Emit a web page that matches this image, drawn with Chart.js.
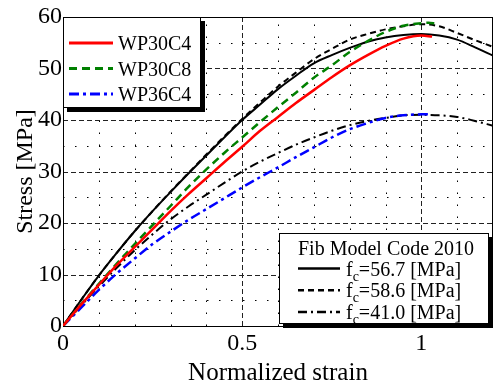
<!DOCTYPE html>
<html>
<head>
<meta charset="utf-8">
<script src="https://cdn.jsdelivr.net/npm/chart.js@4.4.0/dist/chart.umd.min.js"></script>
<style>
html, body { margin: 0; padding: 0; background: #fff; }
#wrap { width: 494px; height: 387px; }
</style>
</head>
<body>
<div id="wrap"><canvas id="stressChart" width="494" height="387"></canvas></div>
<script>
// model curves (fib Model Code 2010)
var strainModel = [0, 0.05, 0.1, 0.15, 0.2, 0.25, 0.3, 0.35, 0.4, 0.45, 0.5, 0.55, 0.6,
                   0.65, 0.7, 0.75, 0.8, 0.85, 0.9, 0.95, 1.0, 1.05, 1.1, 1.15, 1.2];
var stressFc567 = [0, 5.0, 9.8, 14.2, 18.4, 22.3, 26.0, 29.6, 33.1, 36.6, 40.0, 43.0, 46.0,
                   48.6, 51.0, 52.6, 54.0, 55.2, 56.0, 56.5, 56.7, 56.4, 55.6, 54.1, 52.5];
var stressFc586 = [0, 5.0, 9.8, 14.2, 18.4, 22.3, 26.1, 29.7, 33.3, 36.8, 40.2, 43.4, 46.5,
                   49.2, 51.8, 53.8, 55.6, 56.7, 57.6, 58.2, 58.6, 58.2, 56.9, 55.5, 54.2];
var stressFc410 = [0, 3.9, 7.7, 11.3, 14.7, 17.8, 20.7, 23.2, 25.5, 27.8, 30.0, 31.9, 33.6,
                   35.2, 36.6, 37.9, 39.0, 39.8, 40.4, 40.9, 41.0, 40.9, 40.6, 39.8, 38.9];

// test curves
var strainWP30C4 = [0, 0.05, 0.1, 0.15, 0.2, 0.25, 0.3, 0.35, 0.4, 0.45, 0.5, 0.55, 0.6,
                    0.65, 0.7, 0.75, 0.8, 0.85, 0.9, 0.95, 1.0, 1.03];
var stressWP30C4 = [0, 4.1, 8.0, 11.8, 15.3, 18.8, 22.3, 25.6, 28.7, 31.8, 34.8, 37.9, 40.6,
                    43.3, 45.8, 48.3, 50.6, 52.6, 54.4, 55.8, 56.4, 56.2];
var strainWP30C8 = [0, 0.05, 0.1, 0.15, 0.2, 0.25, 0.3, 0.35, 0.4, 0.45, 0.5, 0.55, 0.6,
                    0.65, 0.7, 0.75, 0.8, 0.85, 0.9, 0.95, 1.0, 1.02, 1.04];
var stressWP30C8 = [0, 4.2, 8.2, 12.1, 15.9, 19.6, 23.3, 27.0, 30.4, 33.6, 36.6, 39.6, 42.5,
                    45.3, 48.2, 50.6, 53.2, 55.3, 57.1, 58.3, 58.8, 58.9, 58.7];
var strainWP36C4 = [0, 0.05, 0.1, 0.15, 0.2, 0.25, 0.3, 0.35, 0.4, 0.45, 0.5, 0.55, 0.6,
                    0.65, 0.7, 0.75, 0.8, 0.85, 0.9, 0.95, 1.0, 1.02];
var stressWP36C4 = [0, 3.5, 7.0, 10.2, 13.1, 15.9, 18.3, 20.6, 22.7, 24.8, 26.9, 28.9, 30.8,
                    32.8, 34.7, 36.6, 38.2, 39.4, 40.4, 40.9, 41.1, 41.1];

var testNames = ['WP30C4', 'WP30C8', 'WP36C4'];
var modelTitle = 'Fib Model Code 2010';
var modelFc = ['56.7', '58.6', '41.0'];

var xTicks = [0, 0.5, 1];
var xMajor = [0.5, 1];
var xMinor = [0.1, 0.2, 0.3, 0.4, 0.6, 0.7, 0.8, 0.9, 1.1];
var yMajor = [10, 20, 30, 40, 50];
var yMinor = [5, 15, 25, 35, 45, 55];

var SERIF = '"Liberation Serif", "Times New Roman", serif';

// line styles: color, width, dash
var styleRed   = { c: '#ff0000', w: 2.5, d: [] };
var styleGreen = { c: '#008000', w: 2.5, d: [8, 5] };
var styleBlue  = { c: '#0000ff', w: 2.5, d: [10, 4, 3, 4] };
var styleK1    = { c: '#000000', w: 2, d: [] };
var styleK2    = { c: '#000000', w: 2, d: [6, 4] };
var styleK3    = { c: '#000000', w: 2, d: [9, 4, 2, 4] };

function toPoints(xs, ys) {
    var pts = [];
    for (var i = 0; i < xs.length; i++) pts.push({ x: xs[i], y: ys[i] });
    return pts;
}

function makeDataset(label, xs, ys, st, order) {
    return {
        label: label,
        data: toPoints(xs, ys),
        borderColor: st.c,
        borderWidth: st.w,
        borderDash: st.d,
        pointRadius: 0,
        fill: false,
        cubicInterpolationMode: 'monotone',
        order: order
    };
}

function strokeLine(ctx, x1, y1, x2, y2) {
    ctx.beginPath();
    ctx.moveTo(x1, y1);
    ctx.lineTo(x2, y2);
    ctx.stroke();
}

// MATLAB style grid + box
var gridPlugin = {
    id: 'matlabGrid',
    beforeDatasetsDraw: function (chart) {
        var ctx = chart.ctx, a = chart.chartArea;
        var sx = chart.scales.x, sy = chart.scales.y;
        var i, p;
        ctx.save();
        ctx.lineWidth = 1;
        ctx.strokeStyle = '#000';
        ctx.setLineDash([1.5, 10.5]);
        for (i = 0; i < xMinor.length; i++) {
            p = Math.round(sx.getPixelForValue(xMinor[i])) + 0.5;
            strokeLine(ctx, p, a.bottom, p, a.top);
        }
        for (i = 0; i < yMinor.length; i++) {
            p = Math.round(sy.getPixelForValue(yMinor[i])) + 0.5;
            strokeLine(ctx, a.left, p, a.right, p);
        }
        ctx.strokeStyle = '#222';
        ctx.setLineDash([5, 3]);
        for (i = 0; i < xMajor.length; i++) {
            p = Math.round(sx.getPixelForValue(xMajor[i])) + 0.5;
            strokeLine(ctx, p, a.bottom, p, a.top);
        }
        for (i = 0; i < yMajor.length; i++) {
            p = Math.round(sy.getPixelForValue(yMajor[i])) + 0.5;
            strokeLine(ctx, a.left, p, a.right, p);
        }
        ctx.setLineDash([]);
        ctx.strokeStyle = '#000';
        ctx.strokeRect(Math.round(a.left) + 0.5, Math.round(a.top) + 0.5,
                       Math.round(a.right - a.left) - 1, Math.round(a.bottom - a.top));
        ctx.restore();
    }
};

function legendBox(ctx, x1, y1, x2, y2) {
    ctx.fillStyle = '#000';
    ctx.fillRect(x2, y1 + 4, 4, y2 - y1);
    ctx.fillRect(x1 + 4, y2, x2 - x1, 4);
    ctx.fillStyle = '#fff';
    ctx.fillRect(x1, y1, x2 - x1, y2 - y1);
    ctx.strokeStyle = '#000';
    ctx.lineWidth = 1;
    ctx.setLineDash([]);
    ctx.strokeRect(x1 + 0.5, y1 + 0.5, x2 - x1 - 1, y2 - y1 - 1);
}

function legendSample(ctx, st, x1, x2, y) {
    ctx.strokeStyle = st.c;
    ctx.lineWidth = st.w + 0.5;
    ctx.setLineDash(st.d);
    strokeLine(ctx, x1, y, x2, y);
    ctx.setLineDash([]);
}

var legendPlugin = {
    id: 'twoLegends',
    afterDatasetsDraw: function (chart) {
        var ctx = chart.ctx, a = chart.chartArea;
        var i, y;
        ctx.save();
        // test legend, top left
        var tStyles = [styleRed, styleGreen, styleBlue];
        legendBox(ctx, a.left, a.top, 201, 108);
        ctx.font = '20px ' + SERIF;
        ctx.fillStyle = '#000';
        ctx.textBaseline = 'alphabetic';
        for (i = 0; i < testNames.length; i++) {
            y = 43 + i * 25.5;
            legendSample(ctx, tStyles[i], 69, 113, y);
            ctx.fillStyle = '#000';
            ctx.fillText(testNames[i], 118, y + 7);
        }
        // model legend, bottom right
        var mStyles = [styleK1, styleK2, styleK3];
        legendBox(ctx, 279, 233, 489, 324);
        ctx.font = '20px ' + SERIF;
        ctx.fillStyle = '#000';
        ctx.fillText(modelTitle, 298, 255);
        for (i = 0; i < modelFc.length; i++) {
            y = 268.5 + i * 21.7;
            legendSample(ctx, mStyles[i], 298, 340, y);
            var tx = 346, by = y + 7;
            ctx.fillStyle = '#000';
            ctx.font = '20px ' + SERIF;
            ctx.fillText('f', tx, by);
            tx += ctx.measureText('f').width;
            ctx.font = '14px ' + SERIF;
            ctx.fillText('c', tx, by + 5);
            tx += ctx.measureText('c').width;
            ctx.font = '20px ' + SERIF;
            ctx.fillText('=' + modelFc[i] + ' [MPa]', tx, by);
        }
        ctx.restore();
    }
};

var ctx = document.getElementById('stressChart');
var StressChart = new Chart(ctx, {
    type: 'line',
    data: {
        datasets: [
            makeDataset(testNames[0], strainWP30C4, stressWP30C4, styleRed, 0),
            makeDataset(testNames[1], strainWP30C8, stressWP30C8, styleGreen, 0),
            makeDataset(testNames[2], strainWP36C4, stressWP36C4, styleBlue, 0),
            makeDataset('fc=56.7', strainModel, stressFc567, styleK1, 1),
            makeDataset('fc=58.6', strainModel, stressFc586, styleK2, 1),
            makeDataset('fc=41.0', strainModel, stressFc410, styleK3, 1)
        ]
    },
    options: {
        responsive: false,
        animation: false,
        devicePixelRatio: 1,
        layout: { padding: { top: 17, right: 1, left: 0, bottom: 0 } },
        plugins: { legend: { display: false }, tooltip: { enabled: false } },
        scales: {
            x: {
                type: 'linear',
                min: 0,
                max: 1.2,
                afterBuildTicks: function (scale) {
                    scale.ticks = xTicks.map(function (v) { return { value: v }; });
                },
                afterFit: function (scale) { scale.height = 61; },
                grid: { display: false, drawTicks: false },
                border: { display: false },
                ticks: {
                    color: '#000',
                    padding: 3,
                    maxRotation: 0,
                    autoSkip: false,
                    font: { family: SERIF, size: 24 },
                    callback: function (v) { return String(v); }
                },
                title: {
                    display: true,
                    text: 'Normalized strain',
                    color: '#000',
                    font: { family: SERIF, size: 25, lineHeight: 1 },
                    padding: { top: 0, bottom: 1 }
                }
            },
            y: {
                type: 'linear',
                min: 0,
                max: 60,
                afterFit: function (scale) { scale.width = 63; },
                grid: { display: false, drawTicks: false },
                border: { display: false },
                ticks: {
                    color: '#000',
                    padding: 1,
                    stepSize: 10,
                    font: { family: SERIF, size: 24 }
                },
                title: {
                    display: true,
                    text: 'Stress [MPa]',
                    color: '#000',
                    font: { family: SERIF, size: 24, lineHeight: 1 },
                    padding: { top: 14, bottom: 0 }
                }
            }
        }
    },
    plugins: [gridPlugin, legendPlugin]
});
</script>
</body>
</html>
